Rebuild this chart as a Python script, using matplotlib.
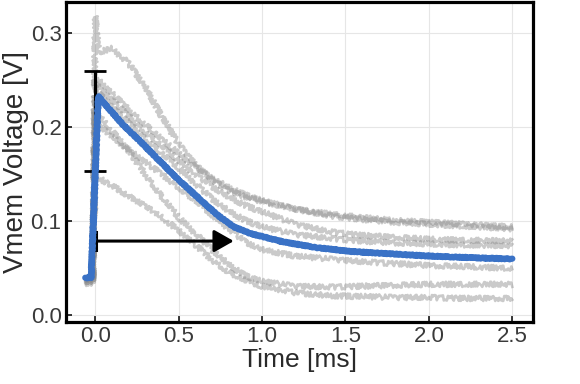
import matplotlib
matplotlib.use("Agg")
import matplotlib.pyplot as plt

# ---------------- data ----------------
t_trace = [-0.06, -0.015, 0.0, 0.02, 0.1, 0.2, 0.3, 0.4, 0.5, 0.6, 0.7,
           0.8, 0.9, 1.0, 1.2, 1.4, 1.6, 1.8, 2.0, 2.2, 2.5]
trace_a = [0.040, 0.040, 0.318, 0.280, 0.284, 0.268, 0.243, 0.211, 0.182, 0.160, 0.144,
           0.133, 0.126, 0.121, 0.113, 0.108, 0.104, 0.101, 0.099, 0.097, 0.094]
trace_b = [0.040, 0.040, 0.252, 0.250, 0.236, 0.219, 0.203, 0.187, 0.172, 0.158, 0.146,
           0.136, 0.128, 0.122, 0.113, 0.106, 0.102, 0.099, 0.097, 0.095, 0.092]
trace_c = [0.038, 0.038, 0.245, 0.243, 0.229, 0.212, 0.195, 0.180, 0.165, 0.150, 0.137,
           0.126, 0.117, 0.110, 0.097, 0.089, 0.085, 0.083, 0.081, 0.080, 0.079]
trace_d = [0.036, 0.036, 0.238, 0.236, 0.222, 0.205, 0.188, 0.172, 0.157, 0.140, 0.124,
           0.111, 0.101, 0.094, 0.086, 0.082, 0.079, 0.077, 0.076, 0.075, 0.074]
trace_e = [0.038, 0.038, 0.204, 0.202, 0.190, 0.176, 0.163, 0.150, 0.136, 0.122, 0.107,
           0.092, 0.078, 0.070, 0.063, 0.060, 0.057, 0.055, 0.053, 0.052, 0.050]
trace_f = [0.036, 0.036, 0.215, 0.213, 0.196, 0.175, 0.150, 0.126, 0.104, 0.087, 0.070,
           0.054, 0.042, 0.036, 0.031, 0.030, 0.031, 0.032, 0.033, 0.033, 0.033]
trace_g = [0.034, 0.034, 0.147, 0.146, 0.138, 0.127, 0.116, 0.104, 0.090, 0.075, 0.059,
           0.046, 0.037, 0.031, 0.024, 0.021, 0.020, 0.019, 0.019, 0.018, 0.018]
traces = [trace_a, trace_b, trace_c, trace_d, trace_e, trace_f, trace_g]

t_mean = [-0.06, -0.025, 0.018, 0.1, 0.17, 0.27, 0.37, 0.5, 0.63, 0.73, 0.83, 0.93,
          1.13, 1.33, 1.53, 1.71, 2.01, 2.31, 2.5]
v_mean = [0.040, 0.040, 0.233, 0.216, 0.202, 0.185, 0.167, 0.144, 0.123, 0.107, 0.094,
          0.087, 0.078, 0.072, 0.068, 0.066, 0.063, 0.061, 0.060]

# annotations
err_t = -0.003
err_center = 0.207
err_half = 0.053
arrow_t0 = 0.005
arrow_t1 = 0.83
arrow_v = 0.079
arrow_tick_half = 0.0095

x_ticks = [0.0, 0.5, 1.0, 1.5, 2.0, 2.5]
y_ticks = [0.0, 0.1, 0.2, 0.3]
x_label = "Time [ms]"
y_label = "Vmem Voltage [V]"

# ---------------- figure ----------------
plt.rcParams['font.family'] = ['Liberation Sans', 'DejaVu Sans']
fig = plt.figure(figsize=(5.8, 3.84), dpi=100)
ax = fig.add_axes([0.1134, 0.1622, 0.9198 - 0.1134, 0.9935 - 0.1622])

for tr in traces:
    ln, = ax.plot(t_trace, tr, color='#8a8a8a', alpha=0.45, lw=1.9, zorder=2)
    ln.set_sketch_params(scale=2.6, length=1.2, randomness=3)

ax.errorbar([err_t], [err_center], yerr=[err_half], color='black', lw=2.2,
            capsize=8, capthick=2.0, zorder=3, fmt='none')

ax.plot([arrow_t0, arrow_t0], [arrow_v - arrow_tick_half, arrow_v + arrow_tick_half],
        color='black', lw=2.2, zorder=3)
ax.annotate('', xy=(arrow_t1, arrow_v), xytext=(arrow_t0, arrow_v),
            arrowprops=dict(arrowstyle='-|>,head_length=0.6,head_width=0.34',
                            mutation_scale=20, color='black', lw=2.2,
                            shrinkA=0, shrinkB=0), zorder=3)

mean_ln, = ax.plot(t_mean, v_mean, color='#3a72c6', lw=4.5, zorder=4,
                   solid_capstyle='round', solid_joinstyle='round')
mean_ln.set_sketch_params(scale=0.6, length=4, randomness=2)

ax.set_xlim(-0.177, 2.627)
ax.set_ylim(-0.0068, 0.3328)
ax.set_xticks(x_ticks)
ax.set_yticks(y_ticks)
ax.set_xticklabels([f"{v:.1f}" for v in x_ticks])
ax.set_yticklabels([f"{v:.1f}" for v in y_ticks])
ax.grid(True, color='#e6e6e6', lw=0.8, zorder=0)
ax.set_axisbelow(True)
ax.tick_params(direction='in', length=4.5, width=1.1, color='black',
               labelsize=16, labelcolor='#3a3a3a', pad=3)
for sp in ax.spines.values():
    sp.set_linewidth(2.3)
    sp.set_color('black')

ax.set_xlabel(x_label, fontsize=19, color='#2a2a2a', labelpad=1)
ax.set_ylabel(y_label, fontsize=20, color='#2a2a2a', labelpad=1)

fig.savefig("out.png", dpi=100)
